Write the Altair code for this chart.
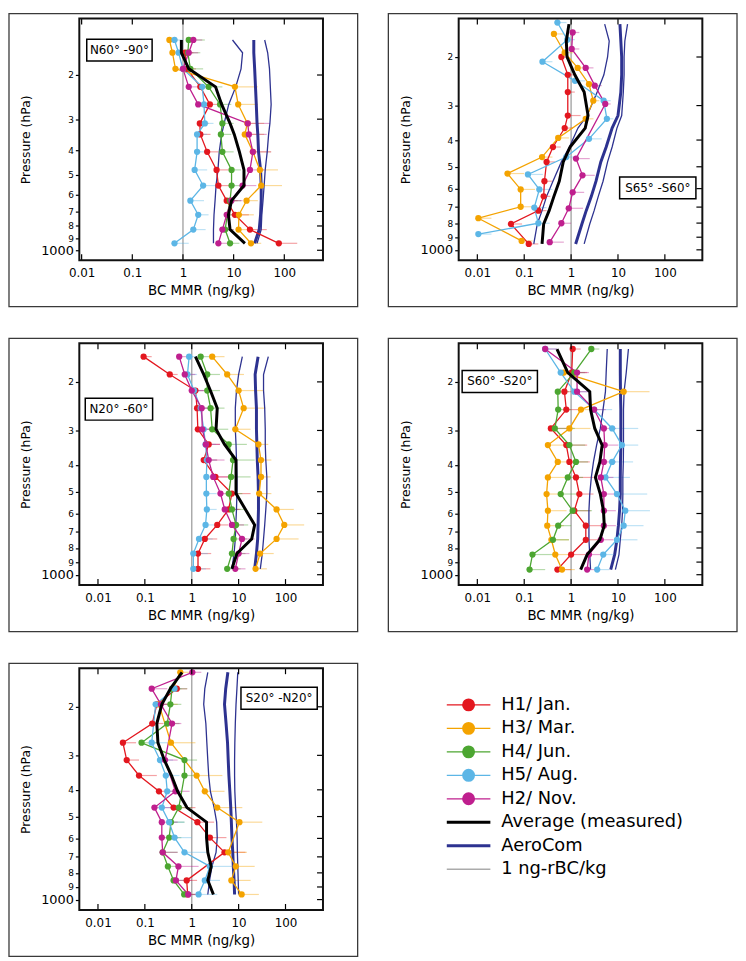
import altair as alt
import pandas as pd

SERIES = ["H1/ Jan.", "H3/ Mar.", "H4/ Jun.", "H5/ Aug.", "H2/ Nov."]
SERIES_COLORS = ["#e3171f", "#f4a300", "#4ca631", "#5cb6e6", "#bf1f8e"]
AVG_COLOR = "#000000"
AERO_COLOR = "#2d3290"
REF_COLOR = "#ababab"

X_TICKS = [0.01, 0.1, 1, 10, 100]
P_TICKS = [200, 300, 400, 500, 600, 700, 800, 900, 1000]

# Values are listed from the lowest altitude (highest pressure) upwards.
# *_E lists hold the right-hand end of each horizontal error bar.

# ---------------- Panel 1: N60-90 ----------------
P1_LEV = [938, 827, 722, 634, 552, 478, 405, 345, 312, 262, 223, 189, 163, 145]
P1_H1 = [78, 21, 10.6, 7.3, 5.0, 4.6, 3.0, 2.2, 2.15, 3.4, 2.2, 1.2, 1.1, None]
P1_H1_E = [180, 45, 20, 12, 9, 8, 5, 3.5, 3.2, 5, 3.5, 1.8, 1.6, None]
P1_H3 = [22, 12.5, 12.7, 18, 35, 33, 24, 16.6, 18.7, 12.3, 10.6, 0.71, 0.62, 0.54]
P1_H3_E = [35, 25, 25, 30, 90, 75, 55, 40, 40, 30, 30, 1.0, 0.9, 0.8]
P1_H4 = [8.5, 6.8, 7.5, 8.5, 9.1, 9.1, 6.0, 5.6, 6.0, 5.4, 3.2, 1.4, 1.25, 1.3]
P1_H4_E = [13, 10, 12, 14, 15, 14, 10, 9, 10, 9, 6, 2.5, 2.2, 2.7]
P1_H5 = [0.68, 1.6, 2.0, 1.4, 2.5, 1.7, 1.9, 1.9, 2.7, 2.6, 2.4, 1.0, 0.82, 0.68]
P1_H5_E = [1.3, 2.8, 3.2, 2.6, 4.5, 3.0, 3.2, 3.0, 4.0, 4.0, 3.5, 1.5, 1.2, 1.0]
P1_H2 = [5.0, 6.0, 7.3, 9.0, 15, 21, 24, 20, 19, 2.0, 1.3, 1.0, 1.3, 1.6]
P1_H2_E = [9, 10, 12, 15, 28, 40, 55, 45, 50, 3.5, 2.0, 1.5, 2.0, 2.4]
P1_AVG = [16.7, 8.5, 7.9, 9.1, 16, 16, 13, 10.3, 8.5, 5.8, 4.4, 1.3, 0.93, 0.93]
P1_AERO_LO = [4.0, 4.0, 4.1, 4.3, 4.5, 4.9, 5.2, 5.8, 6.5, 8, 11, 14, 15, 9.5]
P1_AERO_MID = [26, 32, 34, 35, 35, 34, 31, 30, 29, 28, 27, 26, 25, 25]
P1_AERO_HI = [29, 35, 36, 38, 40, 42, 46, 49, 52, 55, 53, 51, 47, 41]

# ---------------- Panel 2: S65-S60 ----------------
P2_LEV = [952, 806, 721, 640, 564, 480, 424, 362, 326, 268, 232, 200, 175, 152]
P2_H1 = [0.125, 0.052, 0.2, 0.26, 0.27, 0.30, 0.41, 0.73, 0.85, 0.85, 0.85, 0.62, None, None]
P2_H1_E = [0.2, 0.09, 0.3, 0.36, 0.4, 0.45, 0.6, 1.1, 1.6, 1.2, 1.2, 0.9, None, None]
P2_H3_P = [928, 768, 698, 604, 529, 461, 393, 335, 288, 251, 219, 193, 165]
P2_H3 = [0.088, 0.0105, 0.084, 0.084, 0.044, 0.24, 0.53, 2.05, 2.97, 2.41, 1.38, 0.73, 0.43]
P2_H3_E = [0.15, 0.02, 0.18, 0.17, 0.1, 0.4, 0.9, 3.0, 4.0, 3.5, 2.2, 1.1, 0.7]
P2_H4 = []
P2_H5_P = [877, 801, 703, 604, 533, 461, 396, 335, 288, 244, 208, 173, 150]
P2_H5 = [0.0105, 0.2, 0.164, 0.21, 0.12, 0.79, 2.41, 5.8, 4.95, 1.21, 0.245, 0.83, 0.51]
P2_H5_E = [0.02, 0.35, 0.3, 0.4, 0.25, 1.3, 4.5, 8, 7, 2.0, 0.4, 1.2, 0.8]
P2_H2_P = [938, 801, 707, 619, 537, 467, 296, 254, 219, 187, 163]
P2_H2 = [0.35, 0.62, 0.89, 1.08, 1.75, 1.27, 5.35, 3.2, 2.05, 1.03, 1.08]
P2_H2_E = [0.7, 1.0, 1.8, 1.9, 3.2, 2.5, 7, 4.5, 3.0, 1.5, 1.5]
P2_AVG = [0.24, 0.26, 0.34, 0.43, 0.56, 0.68, 0.95, 2.0, 2.3, 1.9, 1.2, 0.82, 0.79, 0.9]
P2_AERO_LO = [0.16, 0.19, 0.24, 0.3, 0.41, 0.62, 0.92, 1.4, 2.2, 3.6, 5.0, 6.0, 6.5, 5.2]
P2_AERO_MID = [1.25, 1.7, 2.1, 2.7, 3.4, 4.3, 5.6, 7.5, 10, 11.5, 12, 12, 11.5, 11]
P2_AERO_HI = [1.9, 2.5, 3.1, 3.8, 4.8, 6.0, 7.5, 9.5, 12, 13, 13.5, 13.5, 14, 16]

# ---------------- Panel 3: N20-60 ----------------
P3_LEV = [952, 838, 742, 660, 580, 508, 442, 384, 337, 297, 249, 215, 188, 162]
P3_H1 = [1.36, 1.36, 1.9, 3.5, 6.1, 7.2, 3.2, 1.8, 2.3, 1.35, 1.3, 1.2, 0.34, 0.094]
P3_H1_E = [2.5, 2.6, 3.5, 6, 11, 18, 7, 3.5, 4, 2.5, 2.2, 2.0, 0.5, 0.14]
P3_H3 = [23, 28.7, 64.5, 94, 64.5, 27.4, 30, 30, 26.5, 8.5, 12.8, 10, 5.7, 2.73]
P3_H3_E = [40, 56, 190, 250, 150, 50, 48, 50, 43, 18, 37, 33, 13, 5]
P3_H4 = [5.7, 7.2, 7.8, 8.8, 7.2, 6.15, 6.9, 7.6, 6.15, 2.73, 2.52, 2.14, 2.14, 1.55]
P3_H4_E = [11, 14, 15, 16, 13, 12, 18, 22, 15, 6, 5, 4, 4, 3.2]
P3_H5 = [1.08, 1.08, 1.43, 1.97, 2.1, 2.05, 2.05, 2.1, 1.97, 1.8, 1.55, 1.12, 0.81, 0.88]
P3_H5_E = [2.0, 2.2, 2.8, 3.3, 3.4, 3.4, 3.4, 3.4, 3.3, 3.0, 2.6, 1.8, 1.3, 1.3]
P3_H2 = [8.5, 10, 11.8, 7.2, 5.06, 4.1, 2.87, 2.3, 2.0, 1.68, 1.63, 1.0, 0.71, 0.54]
P3_H2_E = [14, 17, 22, 13, 10, 8, 6, 5, 4, 3, 3, 1.8, 1.2, 0.9]
P3_AVG = [7.2, 9.2, 19, 22, 14, 8.8, 8.8, 8.8, 5.0, 3.3, 3.5, 2.5, 1.8, 1.2]
P3_AERO_LO = [7.2, 8, 8.5, 8.7, 9, 9.2, 9.2, 9, 8.8, 8.5, 8.5, 9, 10, 12]
P3_AERO_MID = [22, 24, 25.5, 26, 26.5, 26.5, 26, 25, 24.5, 24, 24, 23, 22.5, 26]
P3_AERO_HI = [29, 32, 34, 36, 38, 40, 40, 38, 37, 37, 36, 34, 34, 43]

# ---------------- Panel 4: S60-S20 ----------------
P4_LEV = [958, 845, 747, 664, 586, 510, 444, 390, 339, 295, 252, 217, 185, 152]
P4_H1 = [0.51, 1.0, 2.06, 2.06, 1.17, 1.5, 1.27, 0.92, 0.79, 0.37, 0.79, 0.72, 1.03, 1.08]
P4_H1_E = [1.0, 2.0, 4.0, 4.5, 2.6, 3.0, 3.0, 2.5, 2.2, 1.0, 1.6, 1.3, 2.2, 1.6]
P4_H3 = [0.64, 0.46, 0.38, 0.31, 0.32, 0.3, 0.32, 0.52, 0.32, 0.92, 1.62, 13.2, 0.7, None]
P4_H3_E = [1.2, 1.0, 0.9, 0.7, 0.8, 0.7, 0.8, 1.1, 0.9, 2.6, 3.5, 47, 1.5, None]
P4_H4 = [0.13, 0.15, 0.41, 0.53, 1.08, 0.6, 0.85, 1.27, 0.92, 0.45, 0.53, 0.52, 1.17, 2.7]
P4_H4_E = [0.28, 0.45, 0.9, 1.0, 2.8, 1.4, 1.8, 2.3, 2.0, 1.2, 1.0, 0.9, 2.0, 4.0]
P4_H5 = [3.6, 4.85, 9.5, 13.2, 14.3, 9.5, 5.4, 7.5, 12.1, 7.5, 3.1, 1.17, 0.6, 0.28]
P4_H5_E = [6.5, 9, 26, 35, 48, 42, 18, 21, 27, 27, 7.5, 2.5, 1.0, 0.5]
P4_H2 = [2.2, 2.4, 4.3, 5.0, 5.0, 5.0, 4.3, 5.0, 5.2, 5.0, 3.1, 1.34, 1.34, 0.28]
P4_H2_E = [4.0, 4.5, 8, 9, 9, 9, 8, 9, 10, 9, 5.5, 2.5, 2.4, 0.5]
P4_AVG = [1.6, 2.2, 4.1, 5.1, 4.9, 4.2, 3.3, 4.1, 4.6, 3.2, 2.6, 2.5, 0.85, 0.5]
P4_AERO_LO = [2.6, 2.5, 2.4, 2.4, 2.4, 2.5, 2.7, 3.0, 3.5, 4.2, 4.8, 5.4, 5.6, 5.9]
P4_AERO_MID = [7.0, 8.5, 9.5, 10.2, 10.8, 11.2, 11.2, 11.3, 11.5, 11.5, 11.5, 11.3, 11.2, 11.2]
P4_AERO_HI = [8.8, 10.5, 11.2, 12, 12.5, 12.7, 12.7, 13, 13.1, 13.1, 13.1, 13.5, 15, 16.7]

# ---------------- Panel 5: S20-N20 ----------------
P5_LEV = [958, 852, 758, 674, 596, 524, 464, 405, 355, 312, 270, 230, 196, 172, 150]
P5_H1 = [0.82, 0.78, None, 5.0, 2.44, 1.32, 0.41, 0.2, 0.075, 0.041, 0.034, 0.144, 0.18, 0.48, None]
P5_H1_E = [1.5, 1.3, None, 14, 5.5, 3.0, 1.2, 0.5, 0.18, 0.075, 0.065, 0.25, 0.3, 0.8, None]
P5_H3 = [11.6, 7.0, 8.7, 6.0, None, 10.4, 3.5, 1.9, 1.27, None, 0.36, None, 0.2, 0.4, 0.57]
P5_H3_E = [27, 18, 22, 15, None, 32, 12, 5, 4.5, None, 1.2, None, 0.5, 0.8, 0.9]
P5_H4 = [0.69, 0.41, 0.31, 0.24, 0.33, 0.36, 0.53, None, 0.7, 0.7, 0.085, 0.3, 0.35, 0.38, None]
P5_H4_E = [1.2, 0.7, 0.6, 0.5, 0.6, 0.7, 1.0, None, 1.2, 1.3, 0.18, 0.55, 0.6, 0.6, None]
P5_H5 = [1.4, 1.9, 2.44, 0.70, 0.43, 0.33, 0.23, 0.3, 0.28, 0.21, 0.14, None, 0.17, 0.43, None]
P5_H5_E = [3.5, 4.0, 8, 2.0, 1.0, 0.7, 0.5, 0.6, 0.55, 0.4, 0.3, None, 0.3, 0.8, None]
P5_H2 = [0.84, 0.46, 0.52, 0.24, 0.23, 0.23, 0.16, 0.45, None, 0.27, None, 0.38, 0.22, 0.14, 1.03]
P5_H2_E = [1.5, 1.0, 1.4, 0.5, 0.5, 0.5, 0.4, 0.9, None, 0.5, None, 0.6, 0.4, 0.3, 1.6]
P5_AVG = [2.9, 2.2, 2.6, 2.2, 2.07, 2.07, 0.79, 0.5, 0.37, 0.26, 0.19, 0.18, 0.23, 0.35, 0.62]
P5_AERO_LO = [2.2, 2.4, 2.7, 3.3, 3.5, 3.4, 3.0, 2.5, 2.3, 2.2, 2.1, 2.0, 1.8, 1.9, 2.2]
P5_AERO_MID = [8.2, 8.0, 7.7, 7.5, 7.2, 7.0, 6.8, 6.5, 6.2, 6.0, 5.8, 5.4, 5.0, 5.3, 5.9]
P5_AERO_HI = [10, 9.8, 9.6, 9.4, 9.3, 9.0, 8.6, 8.3, 8.2, 8.2, 8.3, 8.5, 8.8, 9.2, 9.6]

LEGEND_LABELS = SERIES + ["Average (measured)", "AeroCom", "1 ng-rBC/kg"]
LEGEND_COLORS = SERIES_COLORS + [AVG_COLOR, AERO_COLOR, REF_COLOR]
LEGEND_WIDTHS = [1.3] * 5 + [3, 3, 1.5]

FONT = "DejaVu Sans"
W, H = 246, 244
BOX = (-71, 281, -5, 291)  # outer panel frame, pixels relative to plot origin

COLOR_SCALE = alt.Scale(domain=LEGEND_LABELS, range=LEGEND_COLORS)


def rows_for(values, pressures, errs=None):
    out = []
    errs = errs if errs else [None] * len(values)
    for i, (p, v, e) in enumerate(zip(pressures, values, errs)):
        if v is not None:
            out.append({"i": i, "p": p, "v": v, "e": e})
    return out


def xenc(xdom):
    return alt.X(
        "v:Q",
        scale=alt.Scale(type="log", domain=xdom, nice=False),
        axis=alt.Axis(values=X_TICKS, format="~g", ticks=False, domain=False, grid=False,
                      labelPadding=8, labelFontSize=12, labelFont=FONT, labelColor="black",
                      labelFlush=False, title="BC MMR (ng/kg)", titleFontSize=13.5,
                      titleFont=FONT, titleFontWeight="normal", titleColor="black",
                      titlePadding=5),
    )


def yenc(ydom):
    return alt.Y(
        "p:Q",
        scale=alt.Scale(type="log", domain=ydom, reverse=True, nice=False),
        axis=alt.Axis(values=P_TICKS, grid=False, domain=False, ticks=True, tickSize=4,
                      tickColor="black", tickWidth=1.2,
                      labelExpr="datum.value == 1000 ? '1000' : '' + (datum.value / 100)",
                      labelFontSize=alt.condition("datum.value == 1000", alt.value(13), alt.value(9)),
                      labelFont=FONT, labelColor="black", labelPadding=2,
                      title="Pressure (hPa)", titleFontSize=12.5, titleFont=FONT,
                      titleFontWeight="normal", titleColor="black", titlePadding=8),
    )


def frame_layer(x0, x1, y0, y1, stroke, width, fill=None, opacity=1):
    kw = dict(stroke=stroke, strokeWidth=width, strokeOpacity=opacity)
    if fill is None:
        m = alt.Chart(pd.DataFrame({"a": [0]})).mark_rect(filled=False, **kw)
    else:
        m = alt.Chart(pd.DataFrame({"a": [0]})).mark_rect(fill=fill, **kw)
    return m.encode(x=alt.value(x0), x2=alt.value(x1), y=alt.value(y0), y2=alt.value(y1))


def make_panel(title, levels, series, avg, aero, xdom, ydom, tbox):
    rows = []
    for name, (vals, pres, errs) in zip(SERIES, series):
        for r in rows_for(vals, pres if pres is not None else levels, errs):
            r["s"] = name
            rows.append(r)
    meas = pd.DataFrame(rows)
    err_df = meas.dropna(subset=["e"])
    avg_df = pd.DataFrame(rows_for(avg, levels))
    aero_rows = []
    for kind, vals, w in zip(["lo", "mid", "hi"], aero, [1.3, 3.0, 1.3]):
        for r in rows_for(vals, levels):
            r["k"] = kind
            r["w"] = w
            aero_rows.append(r)
    aero_df = pd.DataFrame(aero_rows)

    color = alt.Color("s:N", scale=COLOR_SCALE, legend=None)

    outer = frame_layer(BOX[0], BOX[1], BOX[2], BOX[3], "#3a3a3a", 1.3)
    ref = alt.Chart(pd.DataFrame({"v": [1]})).mark_rule(color=REF_COLOR, strokeWidth=1.5).encode(
        x=xenc(xdom))
    errs = alt.Chart(err_df).mark_rule(strokeWidth=1.2, opacity=0.4).encode(
        x=xenc(xdom), x2="e:Q", y=yenc(ydom), color=color)
    aero_l = alt.Chart(aero_df).mark_line(color=AERO_COLOR).encode(
        x=xenc(xdom), y=yenc(ydom), detail="k:N", order="i:Q",
        strokeWidth=alt.StrokeWidth("w:Q", scale=None))
    lines = alt.Chart(meas).mark_line(strokeWidth=1.3).encode(
        x=xenc(xdom), y=yenc(ydom), color=color, detail="s:N", order="i:Q")
    pts = alt.Chart(meas).mark_circle(size=40, opacity=1).encode(
        x=xenc(xdom), y=yenc(ydom), color=color)
    avg_l = alt.Chart(avg_df).mark_line(color=AVG_COLOR, strokeWidth=3).encode(
        x=xenc(xdom), y=yenc(ydom), order="i:Q")
    xt = pd.DataFrame({"v": X_TICKS})
    yt = pd.DataFrame({"p": P_TICKS})
    xt_bot = alt.Chart(xt).mark_rule(color="black", strokeWidth=1.2).encode(
        x=xenc(xdom), y=alt.value(H), y2=alt.value(H - 6))
    xt_top = alt.Chart(xt).mark_rule(color="black", strokeWidth=1.2).encode(
        x=xenc(xdom), y=alt.value(0), y2=alt.value(6))
    yt_r = alt.Chart(yt).mark_rule(color="black", strokeWidth=1.2).encode(
        y=yenc(ydom), x=alt.value(W - 6), x2=alt.value(W))
    frame = frame_layer(0, W, 0, H, "#111111", 2)
    cx, cy, bw = tbox
    tb = frame_layer(cx - bw / 2, cx + bw / 2, cy - 11, cy + 11, "black", 1.5, fill="white")
    tt = alt.Chart(pd.DataFrame({"t": [title]})).mark_text(
        font=FONT, fontSize=12, color="black", align="center", baseline="middle").encode(
        text="t:N", x=alt.value(cx), y=alt.value(cy))
    return alt.layer(outer, ref, errs, aero_l, lines, pts, avg_l, xt_bot, xt_top, yt_r, frame,
                     tb, tt).properties(width=W, height=H)


XDOM1 = [0.009, 580]
XDOM = [0.004, 630]
YDOM1 = [119, 1095]
YDOM = [145, 1090]

p1 = make_panel("N60\u00b0 -90\u00b0", P1_LEV,
                [(P1_H1, None, P1_H1_E), (P1_H3, None, P1_H3_E), (P1_H4, None, P1_H4_E),
                 (P1_H5, None, P1_H5_E), (P1_H2, None, P1_H2_E)],
                P1_AVG, [P1_AERO_LO, P1_AERO_MID, P1_AERO_HI], XDOM1, YDOM1, (40.5, 32, 66))
p2 = make_panel("S65\u00b0 -S60\u00b0", P2_LEV,
                [(P2_H1, None, P2_H1_E), (P2_H3, P2_H3_P, P2_H3_E), (P2_H4, None, None),
                 (P2_H5, P2_H5_P, P2_H5_E), (P2_H2, P2_H2_P, P2_H2_E)],
                P2_AVG, [P2_AERO_LO, P2_AERO_MID, P2_AERO_HI], XDOM, YDOM, (201, 171, 77))
p3 = make_panel("N20\u00b0 -60\u00b0", P3_LEV,
                [(P3_H1, None, P3_H1_E), (P3_H3, None, P3_H3_E), (P3_H4, None, P3_H4_E),
                 (P3_H5, None, P3_H5_E), (P3_H2, None, P3_H2_E)],
                P3_AVG, [P3_AERO_LO, P3_AERO_MID, P3_AERO_HI], XDOM, YDOM, (40, 66.5, 68))
p4 = make_panel("S60\u00b0 -S20\u00b0", P4_LEV,
                [(P4_H1, None, P4_H1_E), (P4_H3, None, P4_H3_E), (P4_H4, None, P4_H4_E),
                 (P4_H5, None, P4_H5_E), (P4_H2, None, P4_H2_E)],
                P4_AVG, [P4_AERO_LO, P4_AERO_MID, P4_AERO_HI], XDOM, YDOM, (41.5, 38.5, 76))
p5 = make_panel("S20\u00b0 -N20\u00b0", P5_LEV,
                [(P5_H1, None, P5_H1_E), (P5_H3, None, P5_H3_E), (P5_H4, None, P5_H4_E),
                 (P5_H5, None, P5_H5_E), (P5_H2, None, P5_H2_E)],
                P5_AVG, [P5_AERO_LO, P5_AERO_MID, P5_AERO_HI], XDOM, YDOM, (201.7, 30.3, 77))

# ---------------- legend panel ----------------
leg_df = pd.DataFrame({
    "label": LEGEND_LABELS,
    "idx": list(range(len(LEGEND_LABELS))),
    "w": LEGEND_WIDTHS,
    "marker": [True] * 5 + [False] * 3,
})
ly = alt.Y("idx:Q", scale=alt.Scale(domain=[-1.561, 8.734], reverse=True, nice=False, zero=False),
           axis=None)
lcolor = alt.Color("label:N", scale=COLOR_SCALE, legend=None)
leg_box = frame_layer(BOX[0], BOX[1], BOX[2], BOX[3], "white", 1.3, opacity=0)
leg_lines = alt.Chart(leg_df).mark_rule().encode(
    y=ly, x=alt.value(-11), x2=alt.value(33), color=lcolor,
    strokeWidth=alt.StrokeWidth("w:Q", scale=None))
leg_pts = alt.Chart(leg_df).transform_filter("datum.marker").mark_circle(size=170, opacity=1).encode(
    y=ly, x=alt.value(11), color=lcolor)
leg_txt = alt.Chart(leg_df).mark_text(font=FONT, fontSize=18, align="left", baseline="middle",
                                      color="black").encode(
    y=ly, x=alt.value(44), text="label:N")
legend = alt.layer(leg_box, leg_lines, leg_pts, leg_txt).properties(width=W, height=H)

row1 = alt.hconcat(p1, p2, spacing=29)
row2 = alt.hconcat(p3, p4, spacing=29)
row3 = alt.hconcat(p5, legend, spacing=29)
chart = (
    alt.vconcat(row1, row2, row3, spacing=30)
    .properties(padding=0)
    .configure(font=FONT)
    .configure_view(stroke="transparent", strokeWidth=0)
)

chart.save("out.html", embed_options={"renderer": "svg", "actions": False})
